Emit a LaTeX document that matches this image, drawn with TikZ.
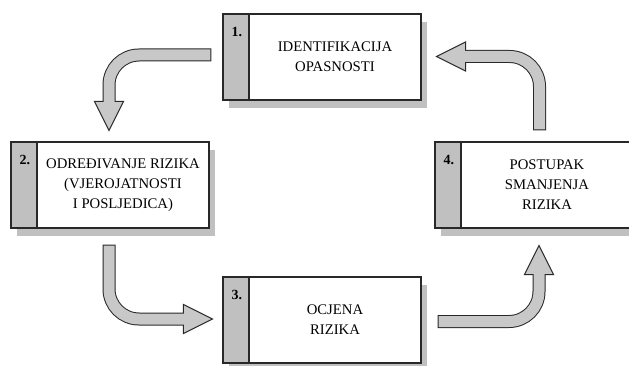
\documentclass[tikz,border=0pt]{standalone}
\usepackage{fontspec}
\setmainfont{Liberation Serif}
\usetikzlibrary{calc,shadows}
\definecolor{stripgray}{RGB}{192,192,192}
\definecolor{arrowgray}{RGB}{200,200,200}
\definecolor{edgegray}{RGB}{40,40,40}
\tikzset{
  box/.style={rectangle, draw=edgegray, line width=1.2pt, fill=white,
    minimum width=198pt, minimum height=86pt, inner sep=0pt,
    drop shadow={shadow xshift=6pt, shadow yshift=-8pt, fill=stripgray, opacity=1},
    path picture={
      \fill[stripgray] (path picture bounding box.north west) rectangle ([xshift=26pt]path picture bounding box.south west);
      \draw[edgegray, line width=1.2pt] ([xshift=26pt]path picture bounding box.north west) -- ([xshift=26pt]path picture bounding box.south west);
    }},
  num/.style={anchor=base west, inner sep=0pt, font=\fontsize{14}{17}\selectfont\bfseries},
  txt/.style={align=center, inner sep=0pt, font=\fontsize{14.7}{20}\selectfont},
  bandout/.style={line width=13pt, draw=edgegray, rounded corners=30pt},
  bandin/.style={line width=11pt, draw=arrowgray, rounded corners=30pt},
  headtip/.style={fill=arrowgray, draw=edgegray, line width=1pt, line join=miter}
}
\begin{document}
\begin{tikzpicture}[x=1pt, y=1pt]
  \path[use as bounding box, fill=white] (0,0) rectangle (629,365);
  \clip (0,0) rectangle (629,365);

  % the four steps
  \node[box] (b1) at (322,308) {};
  \node[num] (n1) at ([shift={(9,-23.5)}]b1.north west) {1.};
  \node[txt] (t1) at ([xshift=13pt]b1.center) {IDENTIFIKACIJA\\OPASNOSTI};

  \node[box] (b2) at (110,180) {};
  \node[num] (n2) at ([shift={(9,-23.5)}]b2.north west) {2.};
  \node[txt] (t2) at ([xshift=13pt]b2.center) {ODREĐIVANJE RIZIKA\\(VJEROJATNOSTI\\I POSLJEDICA)};

  \node[box] (b3) at (322,45) {};
  \node[num] (n3) at ([shift={(9,-23.5)}]b3.north west) {3.};
  \node[txt] (t3) at ([xshift=13pt]b3.center) {OCJENA\\RIZIKA};

  \node[box] (b4) at (534,180) {};
  \node[num] (n4) at ([shift={(9,-23.5)}]b4.north west) {4.};
  \node[txt] (t4) at ([xshift=13pt]b4.center) {POSTUPAK\\SMANJENJA\\RIZIKA};

  % bent arrows between the steps
  \coordinate (a1s) at ([shift={(-11,2)}]b1.west);
  \coordinate (a1t) at ([shift={(-1,11)}]b2.north);
  \coordinate (a1c) at (a1t |- a1s);
  \coordinate (a2s) at ([shift={(5.5,11)}]b4.north);
  \coordinate (a2t) at ([shift={(15,0.5)}]b1.east);
  \coordinate (a2c) at (a2s |- a2t);
  \coordinate (a3s) at ([shift={(-1,-16)}]b2.south);
  \coordinate (a3t) at ([shift={(-10,1)}]b3.west);
  \coordinate (a3c) at (a3s |- a3t);
  \coordinate (a4s) at ([shift={(16,-1.5)}]b3.east);
  \coordinate (a4t) at ([shift={(5,-17)}]b4.south);
  \coordinate (a4c) at (a4t |- a4s);

  \foreach \start/\turn/\tip in {a1s/a1c/a1t, a2s/a2c/a2t, a3s/a3c/a3t, a4s/a4c/a4t} {
    \coordinate (hb) at ($(\tip)!29pt!(\turn)$);
    \draw[headtip] ($(hb)!14.5pt!90:(\tip)$) -- (\tip) -- ($(hb)!14.5pt!-90:(\tip)$) -- cycle;
    \draw[bandout] (\start) -- (\turn) -- (hb);
    \draw[bandin, shorten <=1pt, shorten >=-1.5pt] (\start) -- (\turn) -- (hb);
  }
\end{tikzpicture}
\end{document}
